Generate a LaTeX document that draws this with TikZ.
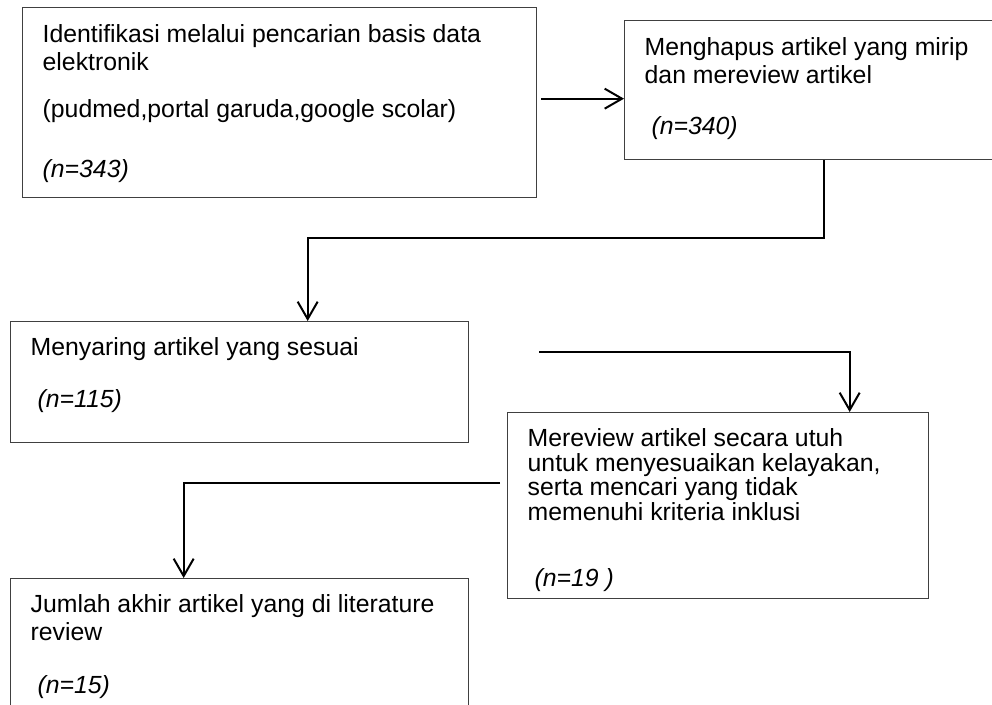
\documentclass[tikz,border=0pt]{standalone}
\usepackage{fontspec}
\setmainfont{Liberation Sans}
\usepackage{tikz}
\usetikzlibrary{arrows.meta, positioning}

\newcommand{\boxbody}[3]{\parbox[t][#2][t]{#1}{\raggedright\leftskip=15pt\relax #3}}

\begin{document}
\begin{tikzpicture}[x=0.75pt,y=0.75pt,yscale=-1,xscale=1,
  box/.style={draw={rgb, 255:red, 64; green, 64; blue, 64 }, line width=1pt, anchor=north west, inner sep=0pt, font=\fontsize{18.6}{21}\selectfont},
  arr/.style={line width=1.5pt, -{Straight Barb[length=13pt,width=15pt]}}]
\useasboundingbox (0,0) rectangle (992,704);
\clip (0,0) rectangle (992,704);

% Boxes
\node[box] (ident) at (22,7) {\boxbody{385.5pt}{142.5pt}{\vspace*{12.6pt}Identifikasi melalui pencarian basis data\\ elektronik\\[14.25pt] (pudmed,portal garuda,google scolar)\\[24pt] \textit{(n=343)}}};
\node[box] (hapus) at (624,20) {\boxbody{298.5pt}{104.25pt}{\vspace*{12.6pt}Menghapus artikel yang mirip\\ dan mereview artikel\\[17.25pt] \ \textit{(n=340)}}};
\node[box] (saring) at (10,321) {\boxbody{343.5pt}{90.75pt}{\vspace*{11.9pt}Menyaring artikel yang sesuai\\[18pt] \ \textit{(n=115)}}};
\node[box] (review) at (507,412) {\boxbody{315.75pt}{139.5pt}{\fontsize{18.6}{18.4}\selectfont\vspace*{11.9pt}Mereview artikel secara utuh\\ untuk menyesuaikan kelayakan,\\ serta mencari yang tidak\\ memenuhi kriteria inklusi\\[31.5pt] \ \textit{(n=19 )}}};
\node[box] (akhir) at (10,578) {\boxbody{343.5pt}{108pt}{\vspace*{11.9pt}Jumlah akhir artikel yang di literature\\ review\\[18.75pt] \ \textit{(n=15)}}};

%Straight Lines
\coordinate (a1) at ([shift={(4,-4)}]ident.east);
\draw[arr] (a1) -- (a1 -| hapus.west);
%Straight Lines
\draw[arr] (hapus.south) -- ++(0,78) -| ([shift={(68,0)}]saring.north);
%Straight Lines
\draw[arr] ([shift={(70,-30.5)}]saring.east) -| ([shift={(131.5,0)}]review.north);
%Straight Lines
\draw[arr] ([shift={(-7,-23)}]review.west) -| ([shift={(-56,0)}]akhir.north);

\end{tikzpicture}
\end{document}
